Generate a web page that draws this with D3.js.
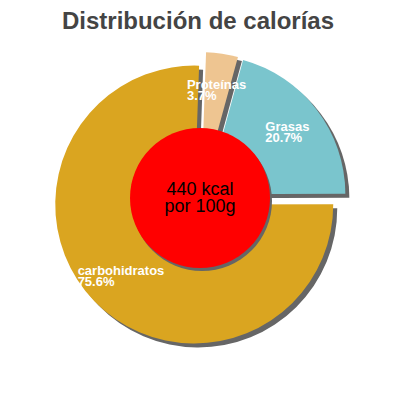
<!DOCTYPE html>
<html>
<head>
<meta charset="utf-8">
<script src="https://cdn.jsdelivr.net/npm/d3@7"></script>
<style>
  body { margin: 0; background: #fff; }
  svg { display: block; font-family: "Liberation Sans", Arial, sans-serif; }
</style>
</head>
<body>
<script>
const title = 'Distribución de calorías'
const categories = ['Proteínas', 'Grasas', 'carbohidratos']
const percents = [3.7, 20.7, 75.6]
const colors = ['#EEC591', '#7AC5CD', '#DAA520']
const centerLines = ['440 kcal', 'por 100g']

const width = 400
const height = 400
const cx = 200
const cy = 199
const radius = 139
const explode = 8
const labelRadius = 102
const holeRadius = 70

const data = categories.map((c, i) => ({ name: c, value: percents[i], color: colors[i] }))

const svg = d3.select('body')
  .append('svg')
  .attr('width', width)
  .attr('height', height)

svg.append('text')
  .attr('x', 198)
  .attr('y', 29)
  .attr('text-anchor', 'middle')
  .attr('font-size', 24)
  .attr('font-weight', 'bold')
  .attr('fill', '#444')
  .text(title)

const pie = d3.pie()
  .sort(null)
  .value(d => d.value)
  .startAngle(0.035)
  .endAngle(0.035 + 2 * Math.PI)

const arcs = pie(data)

const arc = d3.arc().innerRadius(0).outerRadius(radius)
const labelArc = d3.arc().innerRadius(labelRadius).outerRadius(labelRadius)

// offset of each slice along its middle angle
const shift = d => {
  const a = (d.startAngle + d.endAngle) / 2
  return [cx + explode * Math.sin(a), cy - explode * Math.cos(a)]
}

const g = svg.append('g')

// shadows first
g.selectAll('path.shadow')
  .data(arcs)
  .enter()
  .append('path')
  .attr('class', 'shadow')
  .attr('transform', d => { const p = shift(d); return `translate(${p[0] + 4}, ${p[1] + 4})` })
  .attr('d', arc)
  .attr('fill', '#666')

g.selectAll('path.slice')
  .data(arcs)
  .enter()
  .append('path')
  .attr('class', 'slice')
  .attr('transform', d => { const p = shift(d); return `translate(${p[0]}, ${p[1]})` })
  .attr('d', arc)
  .attr('fill', d => d.data.color)

// center disc
svg.append('circle')
  .attr('cx', cx + 2)
  .attr('cy', cy + 2)
  .attr('r', holeRadius)
  .attr('fill', '#666')

svg.append('circle')
  .attr('cx', cx)
  .attr('cy', cy - 1)
  .attr('r', holeRadius)
  .attr('fill', '#FF0000')

svg.append('g')
  .selectAll('text')
  .data(centerLines)
  .enter()
  .append('text')
  .attr('x', cx)
  .attr('y', (d, i) => cy - 4 + i * 17)
  .attr('text-anchor', 'middle')
  .attr('font-size', 18)
  .attr('fill', '#000')
  .text(d => d)

// labels, left aligned block centred on the arc point
const labels = svg.append('g')
  .selectAll('text')
  .data(arcs)
  .enter()
  .append('text')
  .attr('font-size', 13)
  .attr('font-weight', 'bold')
  .attr('fill', '#fff')

labels.append('tspan')
  .attr('x', 0)
  .attr('dy', 0)
  .text(d => d.data.name)

labels.append('tspan')
  .attr('x', 0)
  .attr('dy', 11)
  .text(d => d.data.value + '%')

labels.attr('transform', function (d) {
  const p = shift(d)
  const c = labelArc.centroid(d)
  const b = this.getBBox()
  return `translate(${p[0] + c[0] - b.width / 2}, ${p[1] + c[1] - b.height / 2 - b.y})`
})
</script>
</body>
</html>
